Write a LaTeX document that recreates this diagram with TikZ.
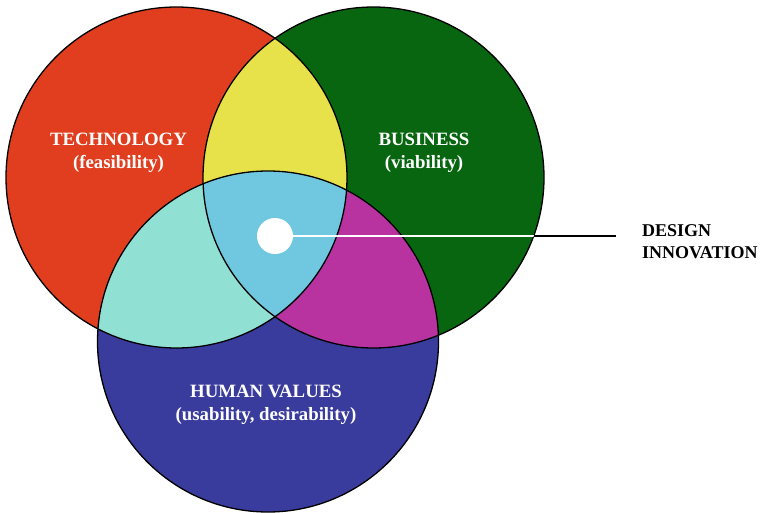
\documentclass[tikz,border=0pt]{standalone}
\usepackage{fontspec}
\setmainfont{Liberation Serif}
\usepackage{xcolor}
\usepackage{tikz}

\definecolor{techred}{RGB}{224,62,30}
\definecolor{busgreen}{RGB}{8,102,16}
\definecolor{humanblue}{RGB}{57,60,156}
\definecolor{tbyellow}{RGB}{232,226,74}
\definecolor{thteal}{RGB}{144,224,212}
\definecolor{bhmagenta}{RGB}{184,50,160}
\definecolor{allblue}{RGB}{112,200,224}

\tikzset{
  label/.style={text=white, font=\bfseries\fontsize{18.8}{23}\selectfont, align=center},
  outline/.style={draw=black, line width=1.3pt}
}

\begin{document}
\begin{tikzpicture}[x=1pt, y=-1pt]
    \useasboundingbox (0,0) rectangle (762,513);

    % 三个圆的位置
    \def\techcirc{(176.5,177.5) circle (170.5pt)}
    \def\buscirc{(373.5,177.5) circle (170.5pt)}
    \def\humancirc{(268,341.5) circle (170.5pt)}

    % 先填充三个圆
    \fill[techred] \techcirc;
    \fill[busgreen] \buscirc;
    \fill[humanblue] \humancirc;

    % 两两相交的部分
    \begin{scope}
        \clip \techcirc;
        \fill[tbyellow] \buscirc; % 技术 与 商业
        \fill[thteal] \humancirc; % 技术 与 人
    \end{scope}
    \begin{scope}
        \clip \buscirc;
        \fill[bhmagenta] \humancirc; % 商业 与 人
    \end{scope}
    \begin{scope}
        \clip \techcirc;
        \clip \buscirc;
        \fill[allblue] \humancirc; % 三者相交
    \end{scope}

    % 圆的边线
    \draw[outline] \techcirc;
    \draw[outline] \buscirc;
    \draw[outline] \humancirc;

    % 文字
    \node[label] (tech) at (118.5,152.5) {TECHNOLOGY\\(feasibility)};
    \node[label] (bus) at (424,152.5) {BUSINESS\\(viability)};
    \node[label] (human) at (266,405) {HUMAN VALUES\\(usability, desirability)};

    % 中心的白点和引线
    \node[circle, fill=white, minimum size=36pt, inner sep=0pt] (dot) at (275,236) {};
    \node[anchor=west, inner sep=0pt, align=left, font=\bfseries\fontsize{18}{22}\selectfont] (innov) at (642,242) {DESIGN\\INNOVATION};
    \coordinate (lineend) at (616,236);
    \draw[black, line width=1.5pt] (dot) -- (lineend); % 圆外是黑色
    \begin{scope}
        \clip \buscirc;
        \draw[white, line width=1.5pt] (dot) -- (lineend); % 圆内是白色
    \end{scope}
\end{tikzpicture}
\end{document}
